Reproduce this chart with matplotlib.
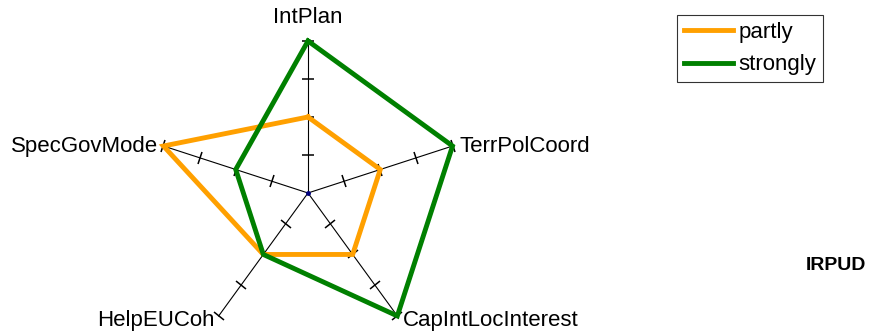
import numpy as np
import matplotlib
matplotlib.use("Agg")
import matplotlib.pyplot as plt
from matplotlib.markers import MarkerStyle
from matplotlib.transforms import Affine2D

plt.rcParams['font.family'] = ['Liberation Sans', 'DejaVu Sans']

categories = ["IntPlan", "TerrPolCoord", "CapIntLocInterest", "HelpEUCoh", "SpecGovMode"]
partly = [2, 2, 2, 2, 4]
strongly = [4, 4, 4, 2, 2]
tick_levels = [1, 2, 3, 4]
series_names = ["partly", "strongly"]
colors = ["#FFA000", "#008000"]

fig = plt.figure(figsize=(8.74, 3.34), dpi=100)
ax = fig.add_axes([0.1785, -0.0329, 0.3478, 0.9102], projection='polar')
ax.set_theta_zero_location('N')
ax.set_theta_direction(-1)
ax.set_ylim(0, 4)
ax.grid(False)
ax.set_xticks([])
ax.set_yticks([])
ax.spines['polar'].set_visible(False)
ax.patch.set_visible(False)

n = len(categories)
thetas = np.arange(n) * 2 * np.pi / n

# axes spokes with tick marks
for th in thetas:
    ax.plot([th, th], [0, 4], color='black', lw=0.8, clip_on=False, zorder=1)
    math_deg = 90 - np.degrees(th)
    m = MarkerStyle('_', transform=Affine2D().rotate_deg(math_deg - 90))
    ax.plot([th] * len(tick_levels), tick_levels, linestyle='none', marker=m,
            markersize=9, markeredgewidth=1.1, color='black', clip_on=False, zorder=1)

for vals, name, c in zip([partly, strongly], series_names, colors):
    t = np.append(thetas, thetas[0])
    v = np.append(vals, vals[0])
    ax.plot(t, v, color=c, lw=3.5, label=name, clip_on=False, zorder=3,
            solid_joinstyle='miter')

ax.plot([0], [0], marker='o', markersize=2.5, color='navy', zorder=4, clip_on=False)

fs = 16
offsets = [((0, 17), 'center', 'center'),
           ((5, 0), 'left', 'center'),
           ((4, -3), 'left', 'center'),
           ((-3, -3), 'right', 'center'),
           ((-4, 0), 'right', 'center')]
for th, lab, (off, ha, va) in zip(thetas, categories, offsets):
    ax.annotate(lab, xy=(th, 4), xytext=off, textcoords='offset points',
                ha=ha, va=va, fontsize=fs, annotation_clip=False)

leg = fig.legend(loc='upper left', bbox_to_anchor=(677 / 874, 1 - 15 / 334),
                 fontsize=fs, frameon=True, fancybox=False, handlelength=2.2,
                 handletextpad=0.25, borderpad=0.3, labelspacing=0.53,
                 borderaxespad=0)
leg.get_frame().set_edgecolor('black')
leg.get_frame().set_linewidth(0.8)

fig.text(866 / 874, 1 - 265 / 334, "IRPUD", ha='right', va='center',
         fontsize=14, fontweight='bold')

fig.savefig("out.png", dpi=100)
